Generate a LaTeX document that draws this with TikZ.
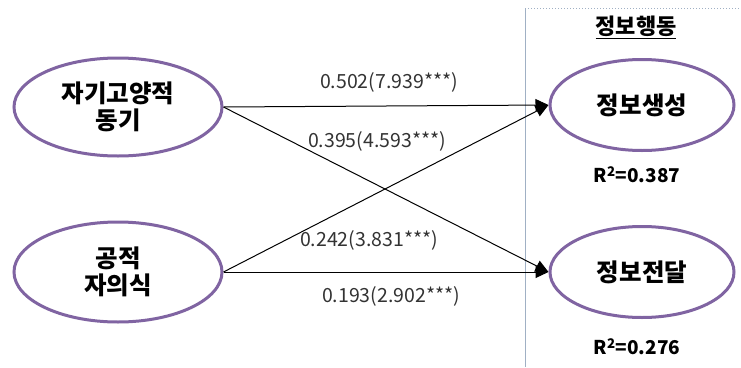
\documentclass[tikz,border=0pt]{standalone}
\usepackage{fontspec}
\setmainfont{Noto Sans CJK KR}
\usetikzlibrary{arrows.meta,shapes.geometric}
\definecolor{ellpurple}{RGB}{128,100,162}
\definecolor{boxline}{RGB}{160,176,196}
\tikzset{
  construct/.style={ellipse, draw=ellpurple, line width=3pt, align=center, font=\fontsize{24.5}{28}\selectfont\bfseries},
  path/.style={-{Triangle[length=13pt,width=12pt]}, line width=1pt, black},
  coef/.style={font=\fontsize{19.5}{22}\selectfont, text=black!80, inner sep=0pt},
  rsq/.style={font=\fontsize{19}{22}\selectfont\bfseries}
}
\begin{document}
\begin{tikzpicture}[x=1pt,y=-1pt]
\useasboundingbox (0,0) rectangle (741,367);
\fill[white] (0,0) rectangle (741,367);
% group box
\coordinate (bt) at (525,8);
\coordinate (btr) at (741,8);
\coordinate (bb) at (525,367);
\draw[boxline, line width=0.8pt] (bt) -- (bb);
\draw[boxline, line width=1pt, dotted] (bt) -- (btr);
\node[font=\fontsize{22}{25}\selectfont\bfseries] (grp) at (636,27) {\underline{정보행동}};
% ellipses
\node[construct, minimum width=208pt, minimum height=98pt] (a) at (118,107) {자기고양적\\[-1pt]동기};
\node[construct, minimum width=208pt, minimum height=100pt] (b) at (118,272) {공적\\[-1pt]자의식};
\node[construct, minimum width=184pt, minimum height=91pt] (c) at (642,105) {정보생성};
\node[construct, minimum width=184pt, minimum height=91pt] (d) at (642,272) {정보전달};
% R2
\node[rsq] (r1) at (637,175) {R\textsuperscript{2}=0.387};
\node[rsq] (r2) at (637,347) {R\textsuperscript{2}=0.276};
% paths
\draw[path] (a.east) -- (c.west);
\draw[path] (a.east) -- (d.west);
\draw[path] (b.east) -- (c.west);
\draw[path] (b.east) -- (d.west);
% coefficients
\node[coef] (l1) at (389,82) {0.502(7.939***)};
\node[coef] (l2) at (377,141) {0.395(4.593***)};
\node[coef] (l3) at (369,240) {0.242(3.831***)};
\node[coef] (l4) at (391,296) {0.193(2.902***)};
\end{tikzpicture}
\end{document}
